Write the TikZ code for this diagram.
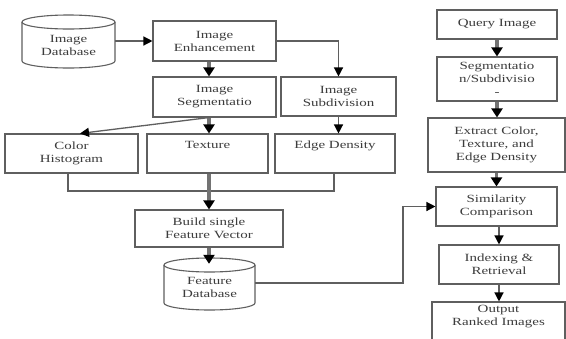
\documentclass[tikz,border=0pt]{standalone}
\usepackage{fontspec}
\setmainfont{Liberation Serif}[FakeStretch=1.36]
\usetikzlibrary{arrows.meta,calc}
\definecolor{lnc}{RGB}{95,95,95}
\definecolor{txc}{RGB}{60,60,60}
\definecolor{shc}{RGB}{115,115,115}
\begin{document}
\begin{tikzpicture}[x=1pt,y=1pt,
  box/.style={draw=lnc,line width=1.1pt,fill=white,inner sep=0pt,align=center,text=txc,
    font=\fontsize{11}{13}\selectfont},
  lbl/.style={inner sep=0pt,align=center,text=txc,font=\fontsize{11}{13}\selectfont},
  conn/.style={draw=lnc,line width=1.1pt},
  arr/.style={draw=lnc,line width=1.3pt,-{Triangle[width=9pt,length=9pt,color=black]}},
  fatarr/.style={draw=shc,line width=3.5pt,-{Triangle[width=11pt,length=9pt,color=black]}}]
\useasboundingbox (0,0) rectangle (566,-338);
\fill[white] (0,0) rectangle (566,-338);

% cylinders
\draw[conn,fill=white] (22,-22) -- (22,-61) arc[start angle=180,end angle=360,x radius=46.5,y radius=7] -- (115,-22);
\draw[conn] (68.5,-22) ellipse[x radius=46.5,y radius=7];
\node[lbl,minimum width=93,minimum height=46] (imgdb) at (68.5,-45) {Image\\Database};

\draw[conn,fill=white] (164,-265) -- (164,-303) arc[start angle=180,end angle=360,x radius=45.5,y radius=7] -- (255,-265);
\draw[conn] (209.5,-265) ellipse[x radius=45.5,y radius=7];
\node[lbl,minimum width=91,minimum height=46] (fdb) at (209.5,-287) {Feature\\Database};

% left boxes
\node[box,minimum width=123,minimum height=40] (enh) at (214.5,-41) {Image\\Enhancement};
\node[box,minimum width=123,minimum height=40] (seg) at (214.5,-97) {Image\\Segmentatio};
\node[box,minimum width=115,minimum height=39] (subd) at (338.5,-96.5) {Image\\Subdivision};
\node[box,minimum width=133,minimum height=39] (colh) at (71.5,-153.5) {Color\\Histogram};
\node[box,minimum width=121,minimum height=39] (tex) at (207.5,-153.5) {Texture\\\strut};
\node[box,minimum width=120,minimum height=39] (edge) at (335,-153.5) {Edge Density\\\strut};
\node[box,minimum width=148,minimum height=37] (build) at (209,-228.5) {Build single\\Feature Vector};

% right boxes
\node[box,minimum width=120,minimum height=29] (query) at (497,-24.5) {Query Image};
\node[box,minimum width=120,minimum height=44] (segsub) at (497,-79) {Segmentatio\\n/Subdivisio\\-};
\node[box,minimum width=137,minimum height=54] (extract) at (496.5,-145) {Extract Color,\\Texture, and\\Edge Density};
\node[box,minimum width=121,minimum height=39] (sim) at (496.5,-206.5) {Similarity\\Comparison};
\node[box,minimum width=120,minimum height=39] (idx) at (499,-264.5) {Indexing \&\\Retrieval};
\node[box,minimum width=133,minimum height=44] (out) at (498.5,-324) {Output\\Ranked Images\\\strut};

% helper coordinates
\coordinate (cx) at (209,0);
\coordinate (ch) at (80,0);
\coordinate (bl) at (68,-191);
\coordinate (br) at (334,-191);
\coordinate (fv) at (403,-283);

% connectors left
\draw[arr] (imgdb.east |- enh.west) -- (enh.west);
\draw[arr] (enh.east) -- (enh.east -| subd.north) -- (subd.north);
\draw[fatarr] (enh.south -| cx) -- (seg.north -| cx);
\draw[arr] (seg.south -| cx) -- (colh.north -| ch);
\draw[fatarr] (seg.south -| cx) -- (tex.north -| cx);
\draw[arr] (subd.south) -- (subd.south |- edge.north);
\draw[conn] (colh.south -| bl) -- (bl) -- (br) -- (edge.south -| br);
\draw[fatarr] (tex.south -| cx) -- (build.north -| cx);
\draw[fatarr] (build.south -| cx) -- (fdb.north -| cx);
\draw[arr] (fdb.east |- fv) -- (fv) -- (fv |- sim.west) -- (sim.west);

% connectors right
\draw[fatarr] (query.south) -- (segsub.north);
\draw[fatarr] (segsub.south) -- (segsub.south |- extract.north);
\draw[fatarr] (extract.south) -- (extract.south |- sim.north);
\draw[arr] (idx.north |- sim.south) -- (idx.north);
\draw[arr] (idx.south) -- (idx.south |- out.north);
\end{tikzpicture}
\end{document}
